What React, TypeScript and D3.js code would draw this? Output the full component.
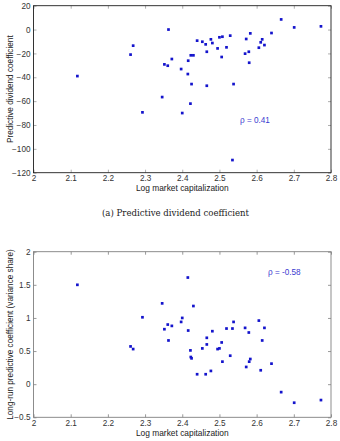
import React, { useRef, useEffect } from "react";
import * as d3 from "d3";

// log market capitalization, one value per market
const logCap = [
  2.118, 2.261, 2.268, 2.293, 2.346, 2.352, 2.361, 2.363, 2.372, 2.397,
  2.4, 2.415, 2.416, 2.422, 2.423, 2.425, 2.43, 2.44, 2.454, 2.463,
  2.466, 2.466, 2.477, 2.481, 2.495, 2.5, 2.506, 2.508, 2.519, 2.529,
  2.535, 2.538, 2.569, 2.572, 2.579, 2.58, 2.583, 2.606, 2.611, 2.615,
  2.621, 2.64, 2.666, 2.701, 2.773,
];

const dividendCoef = [
  -39, -21, -13.5, -69.4, -56.6, -29.2, -30.3, 0, -24.7, -33.1,
  -70, -37.3, -26.1, -62.1, -21.6, -45.7, -21.6, -9.3, -10.2, -12.4,
  -18.6, -47.1, -8.2, -11.3, -15.8, -6.5, -23, -6, -14.9, -5.1,
  -109.4, -45.7, -20.2, -7.9, -18.6, -27.8, -3.2, -15.2, -10.7, -8.2,
  -13, -2.9, 8.5, 1.8, 2.7,
];

const varianceShare = [
  1.5, 0.57, 0.53, 1.01, 1.22, 0.83, 0.9, 0.66, 0.88, 0.94,
  1.0, 1.61, 0.81, 0.51, 0.41, 0.39, 1.18, 0.15, 0.54, 0.15,
  0.6, 0.7, 0.2, 0.8, 0.53, 0.54, 0.63, 0.34, 0.84, 0.43,
  0.84, 0.94, 0.85, 0.26, 0.78, 0.34, 0.38, 0.96, 0.21, 0.66,
  0.85, 0.31, -0.12, -0.28, -0.24,
];

const xTicks = [2, 2.1, 2.2, 2.3, 2.4, 2.5, 2.6, 2.7, 2.8];
const topYTicks = [20, 0, -20, -40, -60, -80, -100, -120];
const bottomYTicks = [2, 1.5, 1, 0.5, 0, -0.5];

const W = 340;
const H = 441;
const sans = "'Liberation Sans', Arial, sans-serif";
const markerColor = "#1414cc";

const drawPanel = (svg, opts) => {
  const { yDomain, yRange, ys, yTicks, yLabel, rho, rhoPos, tickY, xLabelY, boxColor, tickColor } = opts;
  const x = d3.scaleLinear().domain([2, 2.8]).range([33.5, 331]);
  const y = d3.scaleLinear().domain(yDomain).range(yRange);
  const [x0, x1] = x.range();
  const yTop = y.range()[1];
  const yBot = y.range()[0];
  const g = svg.append("g");

  const fmt = d3.format("");
  const styleAxis = (a) => {
    a.select(".domain").remove();
    a.selectAll(".tick line").attr("stroke", tickColor).attr("stroke-width", 0.8);
    a.selectAll("text")
      .attr("fill", "#333")
      .style("font-family", sans)
      .style("font-size", "8.2px");
  };

  // inward ticks on all four sides
  g.append("g")
    .attr("transform", `translate(0,${yBot})`)
    .call(d3.axisBottom(x).tickValues(xTicks).tickSize(-3).tickFormat(fmt))
    .call(styleAxis)
    .selectAll("text")
    .attr("y", tickY - yBot)
    .attr("dy", null);
  g.append("g")
    .attr("transform", `translate(0,${yTop})`)
    .call(d3.axisTop(x).tickValues(xTicks).tickSize(-3).tickFormat(() => ""))
    .call(styleAxis);
  g.append("g")
    .attr("transform", `translate(${x0},0)`)
    .call(d3.axisLeft(y).tickValues(yTicks).tickSize(-3).tickPadding(3).tickFormat(fmt))
    .call(styleAxis);
  g.append("g")
    .attr("transform", `translate(${x1},0)`)
    .call(d3.axisRight(y).tickValues(yTicks).tickSize(-3).tickFormat(() => ""))
    .call(styleAxis);

  g.append("rect")
    .attr("x", x0)
    .attr("y", yTop)
    .attr("width", x1 - x0)
    .attr("height", yBot - yTop)
    .attr("fill", "none")
    .attr("stroke", boxColor)
    .attr("stroke-width", 0.9);

  const s = 2.7;
  g.selectAll(".pt")
    .data(logCap.map((v, i) => [v, ys[i]]))
    .enter()
    .append("rect")
    .attr("class", "pt")
    .attr("x", (d) => x(d[0]) - s / 2)
    .attr("y", (d) => y(d[1]) - s / 2)
    .attr("width", s)
    .attr("height", s)
    .attr("fill", markerColor);

  g.append("text")
    .attr("x", rhoPos[0])
    .attr("y", rhoPos[1])
    .attr("fill", "#3b3bd0")
    .style("font-family", sans)
    .style("font-size", "8.2px")
    .text(rho);

  g.append("text")
    .attr("x", (x0 + x1) / 2)
    .attr("y", xLabelY)
    .attr("text-anchor", "middle")
    .attr("fill", "#222")
    .style("font-family", sans)
    .style("font-size", "8.4px")
    .text("Log market capitalization");

  g.append("text")
    .attr("transform", `translate(12.5,${(yTop + yBot) / 2}) rotate(-90)`)
    .attr("text-anchor", "middle")
    .attr("fill", "#222")
    .style("font-family", sans)
    .style("font-size", "8.2px")
    .text(yLabel);
};

const App = () => {
  const svgRef = useRef(null);

  useEffect(() => {
    const svg = d3.select(svgRef.current);
    svg.selectAll("*").remove();

    svg.append("rect").attr("width", W).attr("height", H).attr("fill", "#fff");

    drawPanel(svg, {
      yDomain: [-120, 20],
      yRange: [172.7, 5.7],
      ys: dividendCoef,
      yTicks: topYTicks,
      yLabel: "Predictive dividend coefficient",
      rho: "\u03c1 = 0.41",
      rhoPos: [240, 122.5],
      tickY: 181.5,
      xLabelY: 190.5,
      boxColor: "#1e1e1e",
      tickColor: "#9a9a9a",
    });

    // sub-figure caption
    svg.append("text")
      .attr("x", 102)
      .attr("y", 215.8)
      .attr("fill", "#222")
      .attr("textLength", 147)
      .attr("lengthAdjust", "spacingAndGlyphs")
      .style("font-family", "'DejaVu Serif', 'Liberation Serif', serif")
      .style("font-size", "8.4px")
      .text("(a) Predictive dividend coefficient");

    drawPanel(svg, {
      yDomain: [-0.5, 2],
      yRange: [417.3, 251.7],
      ys: varianceShare,
      yTicks: bottomYTicks,
      yLabel: "Long-run predictive coefficient (variance share)",
      rho: "\u03c1 = -0.58",
      rhoPos: [268, 274.5],
      tickY: 426.5,
      xLabelY: 435.5,
      boxColor: "#808080",
      tickColor: "#808080",
    });
  }, []);

  return (
    <svg
      ref={svgRef}
      width={W}
      height={H}
      style={{ position: "absolute", left: 0, top: 0 }}
    />
  );
};

export default App;
